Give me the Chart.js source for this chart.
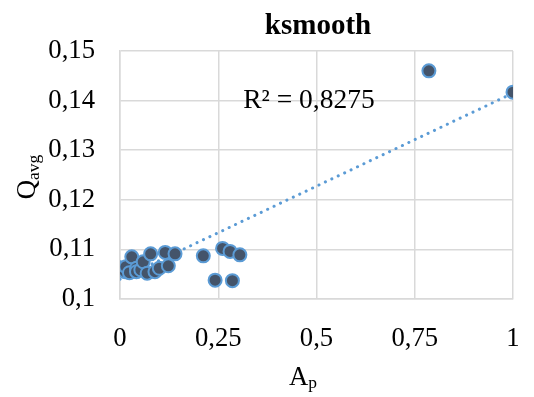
<!DOCTYPE html>
<html><head><meta charset="utf-8">
<script src="https://cdn.jsdelivr.net/npm/chart.js@4/dist/chart.umd.min.js"></script>
<style>html,body{margin:0;padding:0;background:#fff;}#wrap{width:534px;height:397px;position:relative;}</style>
</head><body><div id="wrap"><canvas id="c" width="534" height="397"></canvas></div>
<script>
// ---- data ----
const apValues   = [0.001, 0.005, 0.013, 0.015, 0.024, 0.030, 0.042, 0.042, 0.053, 0.059, 0.069, 0.078, 0.089, 0.100, 0.115, 0.123, 0.140, 0.212, 0.261, 0.280, 0.305, 0.242, 0.286, 0.786, 1.000];
const qavgValues = [0.1063, 0.1061, 0.1055, 0.1065, 0.1053, 0.1085, 0.1062, 0.1055, 0.1059, 0.1075, 0.1052, 0.1091, 0.1055, 0.1062, 0.1094, 0.1067, 0.1091, 0.1087, 0.1102, 0.1096, 0.1089, 0.1038, 0.1037, 0.1460, 0.1417];
const trendX = [0, 1];
const trendY = [0.1040, 0.1415];
const xTickLabels = ['0', '0,25', '0,5', '0,75', '1'];
const yTickLabels = ['0,1', '0,11', '0,12', '0,13', '0,14', '0,15'];
const titleText = 'ksmooth';
const r2Text = 'R² = 0,8275';
const xTitleMain = 'A', xTitleSub = 'p';
const yTitleMain = 'Q', yTitleSub = 'avg';

const FONT = '"Liberation Serif", "Times New Roman", serif';

const textPlugin = {
  id: 'texts',
  afterDraw(chart) {
    const ctx = chart.ctx;
    ctx.save();
    ctx.fillStyle = '#000';
    ctx.textBaseline = 'alphabetic';
    // title
    ctx.font = 'bold 29px ' + FONT;
    ctx.textAlign = 'center';
    ctx.fillText(titleText, 318, 34);
    // R2 label
    ctx.font = '27.5px ' + FONT;
    ctx.fillText(r2Text, 309, 108);
    // x axis title with subscript
    ctx.textAlign = 'left';
    ctx.font = '26.7px ' + FONT;
    const wA = ctx.measureText(xTitleMain).width;
    ctx.font = '17.5px ' + FONT;
    const wp = ctx.measureText(xTitleSub).width;
    let sx = 303 - (wA + wp) / 2;
    ctx.font = '26.7px ' + FONT;
    ctx.fillText(xTitleMain, sx, 385);
    ctx.font = '17.5px ' + FONT;
    ctx.fillText(xTitleSub, sx + wA, 388);
    // y axis title rotated
    ctx.translate(35, 177);
    ctx.rotate(-Math.PI / 2);
    ctx.font = '26.7px ' + FONT;
    const wQ = ctx.measureText(yTitleMain).width;
    ctx.font = '17.5px ' + FONT;
    const wavg = ctx.measureText(yTitleSub).width;
    sx = -(wQ + wavg) / 2;
    ctx.font = '26.7px ' + FONT;
    ctx.fillText(yTitleMain, sx, 0);
    ctx.font = '17.5px ' + FONT;
    ctx.fillText(yTitleSub, sx + wQ, 4);
    ctx.restore();
  }
};

const points = apValues.map((x, i) => ({x: x, y: qavgValues[i]}));
const trend = trendX.map((x, i) => ({x: x, y: trendY[i]}));

new Chart(document.getElementById('c'), {
  type: 'scatter',
  data: {
    datasets: [
      {
        label: 'Qavg',
        data: points,
        order: 0,
        pointRadius: 6.5,
        pointHoverRadius: 6.5,
        pointBorderWidth: 2,
        backgroundColor: '#44546a',
        borderColor: '#5b9bd5'
      },
      {
        label: 'trend',
        type: 'line',
        data: trend,
        order: 1,
        showLine: true,
        pointRadius: 0,
        borderColor: '#5b9bd5',
        borderWidth: 3,
        borderDash: [0.1, 7],
        borderCapStyle: 'round',
        fill: false,
        tension: 0
      }
    ]
  },
  options: {
    responsive: false,
    devicePixelRatio: 1,
    animation: false,
    layout: {padding: {top: 51, right: 21, left: 0, bottom: 0}},
    plugins: {legend: {display: false}, tooltip: {enabled: false}, title: {display: false}},
    scales: {
      x: {
        type: 'linear',
        min: 0, max: 1,
        afterFit(s) { s.height = 98; s.paddingLeft = 0; s.paddingRight = 0; },
        grid: {color: '#d9d9d9', lineWidth: 1.5, drawTicks: false},
        border: {color: '#d9d9d9', width: 1.5},
        ticks: {
          stepSize: 0.25,
          padding: 24,
          color: '#000',
          font: {family: FONT, size: 26.7},
          maxRotation: 0,
          callback: (v, i) => xTickLabels[i]
        }
      },
      y: {
        type: 'linear',
        min: 0.1, max: 0.15,
        afterFit(s) { s.width = 120; s.paddingTop = 0; s.paddingBottom = 0; },
        grid: {color: '#d9d9d9', lineWidth: 1.5, drawTicks: false},
        border: {color: '#d9d9d9', width: 1.5},
        ticks: {
          stepSize: 0.01,
          padding: 25,
          color: '#000',
          font: {family: FONT, size: 26.7},
          callback: (v, i) => yTickLabels[i]
        }
      }
    }
  },
  plugins: [textPlugin]
});
</script></body></html>
